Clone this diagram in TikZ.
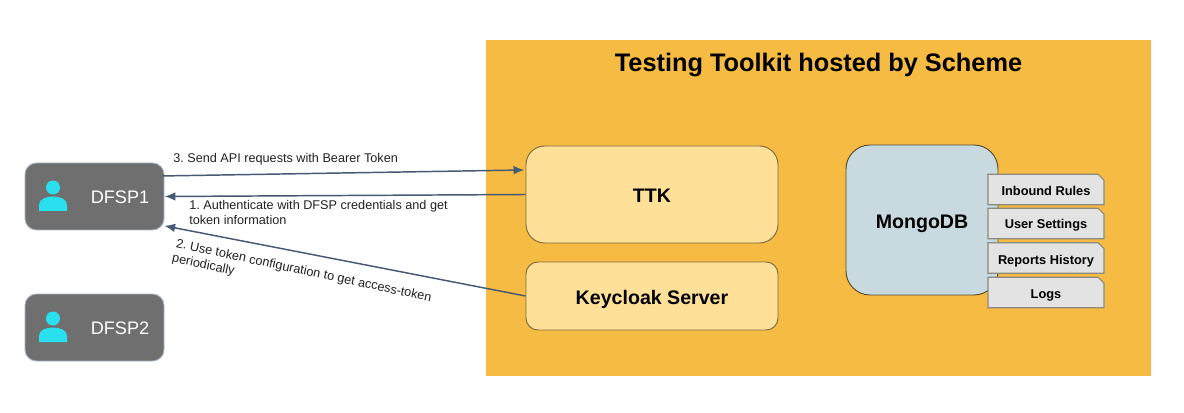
\documentclass[tikz,border=0pt]{standalone}
\usepackage{fontspec}
\setmainfont{Liberation Sans}
\frenchspacing
\usetikzlibrary{arrows.meta,shapes.misc,positioning}
\definecolor{orangebg}{HTML}{F6BB42}
\definecolor{dfspgray}{HTML}{6F6F6F}
\definecolor{dfspedge}{HTML}{A9B8CC}
\definecolor{ttkfill}{HTML}{FFE099}
\definecolor{boxedge}{HTML}{7A6A3C}
\definecolor{mongofill}{HTML}{C8DADF}
\definecolor{tabfill}{HTML}{E3E3E3}
\definecolor{tabedge}{HTML}{8A8A80}
\definecolor{arrowcol}{HTML}{465A75}
\definecolor{iconcol}{HTML}{2BE0EE}
\definecolor{labelcol}{HTML}{222222}
\tikzset{
  x=0.75pt,y=-0.75pt,
  dfspbox/.style={draw=dfspedge,line width=0.7pt,fill=dfspgray,rounded corners=8.5pt,minimum width=104.25pt,minimum height=50.25pt,inner sep=0pt},
  ttkbox/.style={draw=boxedge,line width=0.7pt,fill=ttkfill,minimum width=189pt,inner sep=0pt},
  boldlabel/.style={font=\bfseries\fontsize{14.7}{18}\selectfont,inner sep=0pt},
  tabbox/.style={chamfered rectangle,chamfered rectangle corners=north east,chamfered rectangle xsep=4.5pt,chamfered rectangle ysep=4.5pt,draw=tabedge,line width=0.9pt,fill=tabfill,minimum width=87pt,minimum height=23pt,inner sep=0pt,font=\bfseries\fontsize{9.6}{11}\selectfont},
  flow/.style={draw=arrowcol,line width=1.1pt,-{Latex[length=8pt,width=6.5pt]}},
  flowlabel/.style={font=\fontsize{9.5}{11.25}\selectfont,text=labelcol,inner sep=0pt,align=left},
  dfsplabel/.style={text=white,font=\fontsize{13.6}{16}\selectfont,inner sep=0pt},
}
\newcommand{\personicon}[2]{%
  \fill[iconcol] (#1,#2-2.5) circle[radius=7];
  \fill[iconcol] (#1-14,#2+21) -- (#1-14,#2+15) .. controls (#1-14,#2+9) and (#1-7,#2+6.5) .. (#1,#2+6.5) .. controls (#1+7,#2+6.5) and (#1+14,#2+9) .. (#1+14,#2+15) -- (#1+14,#2+21) -- cycle;
}
\newcommand{\tabtext}[2]{\smash{\raisebox{#1}{#2}}}
\begin{document}
\begin{tikzpicture}
\useasboundingbox (0,0) rectangle (1184,413);
\fill[white] (0,0) rectangle (1184,413);
\node[fill=orangebg,minimum width=498.75pt,minimum height=252pt,inner sep=0pt] (host) at (818.5,208) {};
\node[font=\bfseries\fontsize{19}{22}\selectfont,inner sep=0pt] (title) at (818.5,65) {Testing Toolkit hosted by Scheme};

\node[dfspbox] (dfsp1) at (94.5,196.5) {};
\node[dfspbox] (dfsp2) at (94.5,327.5) {};
\personicon{53}{190}
\personicon{53}{321}
\node[dfsplabel] (dfsp1t) at (120,197) {DFSP1};
\node[dfsplabel] (dfsp2t) at (120,328) {DFSP2};

\node[ttkbox,minimum height=72.75pt,rounded corners=14pt] (ttk) at (652,194.5) {};
\node[boldlabel] (ttkt) at (652,195.5) {TTK};
\node[ttkbox,minimum height=51pt,rounded corners=9pt] (keycloak) at (652,296) {};
\node[boldlabel] (keycloakt) at (652,299) {Keycloak Server};

\node[draw=boxedge!70!black,line width=0.7pt,fill=mongofill,rounded corners=18pt,minimum width=114pt,minimum height=112.5pt,inner sep=0pt] (mongo) at (922,220) {};
\node[boldlabel] (mongot) at (922,224) {MongoDB};

\node[tabbox] (t1) at (1046,189.5) {\tabtext{-4.3pt}{Inbound Rules}};
\node[tabbox] (t2) at (1046,223.5) {\tabtext{-3.9pt}{User Settings}};
\node[tabbox] (t3) at (1046,258) {\tabtext{-4.6pt}{Reports History}};
\node[tabbox] (t4) at (1046,292.5) {\tabtext{-4.4pt}{Logs}};

\draw[flow] ([xshift=-1.5pt,yshift=15.4pt]dfsp1.east) -- ([xshift=-1pt,yshift=18.4pt]ttk.west);
\draw[flow] (ttk.west) -- ([xshift=0.2pt]dfsp1.east);
\draw[flow] (keycloak.west) -- ([xshift=0pt,yshift=-22pt]dfsp1.east);

\node[flowlabel,anchor=west] (l3) at (173,159.5) {3. Send API requests with Bearer Token};
\node[flowlabel,anchor=north west] (l1) at (189,200.5) {1. Authenticate with DFSP credentials and get\\token information};
\node[flowlabel,anchor=north west,rotate=-12] (l2) at (176.5,238) {\hspace{0.7pt}2. Use token configuration to get access-token\\periodically};
\end{tikzpicture}
\end{document}
